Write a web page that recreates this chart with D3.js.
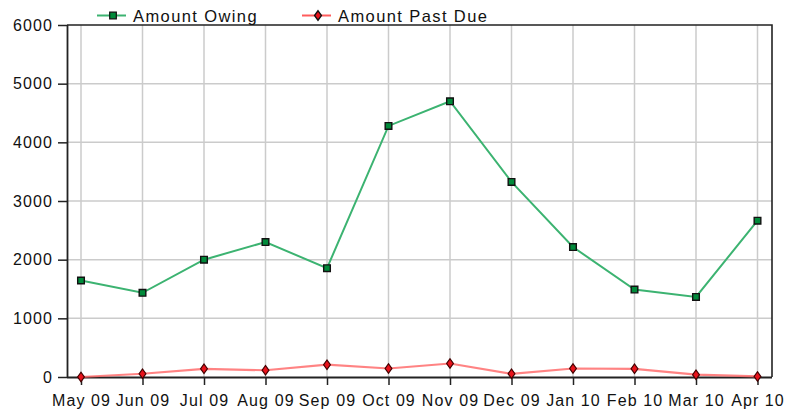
<!DOCTYPE html>
<html><head><meta charset="utf-8">
<script src="https://cdn.jsdelivr.net/npm/d3@7"></script>
<style>
html,body{margin:0;padding:0;background:#fff;}
svg{display:block;font-family:"Liberation Sans",Arial,sans-serif;}
</style></head>
<body><svg id="c" width="787" height="412"></svg>
<script>
const months = ["May 09","Jun 09","Jul 09","Aug 09","Sep 09","Oct 09","Nov 09","Dec 09","Jan 10","Feb 10","Mar 10","Apr 10"];
const amountOwing = [1645,1435,2000,2300,1855,4280,4700,3325,2215,1490,1365,2665];
const amountPastDue = [0,55,140,115,210,145,230,55,145,140,40,10];
const yTicks = [0,1000,2000,3000,4000,5000,6000];
const seriesNames = ["Amount Owing","Amount Past Due"];

const svg = d3.select("#c");
const L = 67, R = 772, T = 25, B = 377;
const x = d3.scalePoint().domain(months).range([81, 757.5]);
const y = d3.scaleLinear().domain([0,6000]).range([B, T]);

// grid
svg.append("g").selectAll("line").data(months).join("line")
  .attr("x1", d=>x(d)).attr("x2", d=>x(d)).attr("y1", T).attr("y2", B)
  .attr("stroke","#cbcbcb").attr("stroke-width",1.5);
svg.append("g").selectAll("line").data(yTicks.slice(1,-1)).join("line")
  .attr("x1", L).attr("x2", R).attr("y1", d=>y(d)).attr("y2", d=>y(d))
  .attr("stroke","#cbcbcb").attr("stroke-width",1.5);

// frame
svg.append("path").attr("d",`M${L},${T}H${R}V${B}`).attr("fill","none").attr("stroke","#222").attr("stroke-width",1.6);

// axes
const yAxis = d3.axisLeft(y).tickValues(yTicks).tickSize(9).tickPadding(5).tickFormat(d3.format("d"));
const gy = svg.append("g").attr("transform",`translate(${L},0)`).call(yAxis);
const xAxis = d3.axisBottom(x).tickSize(8).tickPadding(6);
const gx = svg.append("g").attr("transform",`translate(0,${B})`).call(xAxis);
[gy,gx].forEach(g=>{
  g.select(".domain").attr("stroke","#222").attr("stroke-width",1.8);
  g.selectAll(".tick line").attr("stroke","#222").attr("stroke-width",1.5);
  g.selectAll("text").attr("fill","#111").style("font-size","16px").style("letter-spacing","1.1px")
   .style("font-family","'Liberation Sans',Arial,sans-serif");
});
gx.select(".domain").attr("d",`M${L},0.5H${R}`);
gy.select(".domain").attr("d",`M0.5,${T}V${B}`);
gx.selectAll("text").attr("dy","0.72em").attr("y",17);

// lines
const line = d3.line().x((d,i)=>x(months[i])).y(d=>y(d));
svg.append("path").datum(amountPastDue).attr("d",line).attr("fill","none")
  .attr("stroke","#ff6464").attr("stroke-width",2.2).attr("stroke-opacity",0.8);
svg.append("path").datum(amountOwing).attr("d",line).attr("fill","none")
  .attr("stroke","#3cb371").attr("stroke-width",2);

const sq = d3.symbol().type(d3.symbolSquare).size(44);
const dm = d3.symbol().type(d3.symbolDiamond).size(26);
svg.append("g").selectAll("path").data(amountOwing).join("path")
  .attr("d",sq).attr("transform",(d,i)=>`translate(${x(months[i])},${y(d)})`)
  .attr("fill","#008a3a").attr("stroke","#111").attr("stroke-width",1.4);
svg.append("g").selectAll("path").data(amountPastDue).join("path")
  .attr("d",dm).attr("transform",(d,i)=>`translate(${x(months[i])},${y(d)}) scale(1.25,1)`)
  .attr("fill","#e8121b").attr("stroke","#400").attr("stroke-width",1);

// legend
const leg = [{name:seriesNames[0],x0:97,color:"#3cb371",sym:sq,fill:"#008a3a",sc:""},
             {name:seriesNames[1],x0:302,color:"#ff5c5c",sym:dm,fill:"#e8121b",sc:" scale(1.25,1)"}];
const lg = svg.append("g").selectAll("g").data(leg).join("g");
lg.append("line").attr("x1",d=>d.x0).attr("x2",d=>d.x0+29).attr("y1",15.5).attr("y2",15.5)
  .attr("stroke",d=>d.color).attr("stroke-width",2);
lg.append("path").attr("d",d=>d.sym()).attr("transform",d=>`translate(${d.x0+16},15.5)${d.sc}`)
  .attr("fill",d=>d.fill).attr("stroke","#111").attr("stroke-width",1.2);
lg.append("text").attr("x",d=>d.x0+36).attr("y",22).text(d=>d.name)
  .attr("fill","#111").style("font-size","16.5px").style("letter-spacing","1.4px");
</script></body></html>
